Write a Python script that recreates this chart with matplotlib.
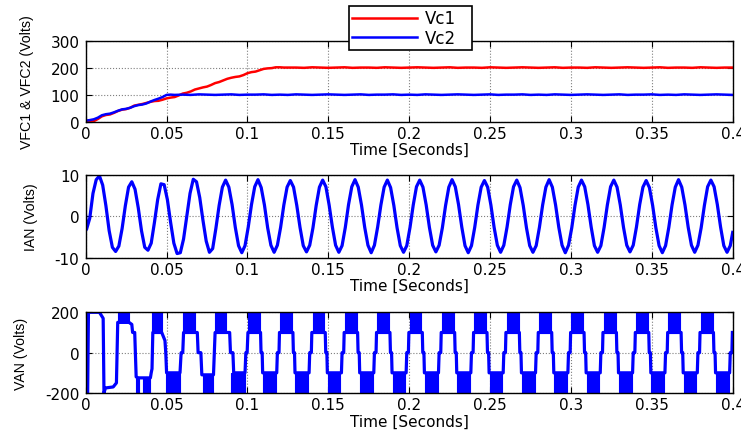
import numpy as np
import matplotlib
matplotlib.use("Agg")
import matplotlib.pyplot as plt

plt.rcParams['font.family'] = ['DejaVu Sans']
plt.rcParams['axes.unicode_minus'] = False

# ---------------- data ----------------
TIME_TICKS = [0, 0.05, 0.1, 0.15, 0.2, 0.25, 0.3, 0.35, 0.4]
TIME_TICK_LABELS = ['0', '0.05', '0.1', '0.15', '0.2', '0.25', '0.3', '0.35', '0.4']
VC_TICKS = [0, 100, 200, 300]
IAN_TICKS = [-10, 0, 10]
VAN_TICKS = [-200, 0, 200]
SERIES_NAMES = ['Vc1', 'Vc2']

# capacitor voltages: ramp (0.0025 s samples) and settled part (0.005 s samples)
VC1_RAMP = [0, 0, 2, 10, 20, 25, 27, 33, 40, 45, 47, 52, 60, 63, 66, 70, 74, 77, 78, 82,
            87, 90, 92, 98, 105, 108, 113, 120, 124, 128, 131, 137, 144, 148, 154, 160, 164, 167, 169, 174,
            181, 185, 187, 192, 197, 199, 200, 203, 203, 202, 202]
VC1_FLAT = [202, 201, 203, 202, 201, 202, 203, 201, 202, 202, 201, 203, 202, 201, 202, 203, 202, 201, 202, 203,
            201, 202, 202, 201, 203, 202, 201, 202, 203, 202, 201, 202, 203, 201, 202, 202, 201, 203, 202, 201,
            202, 203, 202, 201, 202, 203, 201, 202, 202, 201, 203, 202, 201, 202, 202]
VC2_RAMP = [4, 6, 9, 15, 24, 28, 30, 35, 41, 46, 48, 52, 58, 62, 64, 68, 75, 81, 86, 92, 100, 101, 100]
VC2_FLAT = [101, 100, 102, 101, 100, 101, 102, 100, 101, 101, 102, 100, 101, 100, 102, 101, 100, 101, 102, 101,
            100, 101, 102, 100, 101, 101, 102, 100, 101, 100, 102, 101, 100, 101, 102, 101, 100, 101, 102, 100,
            101, 101, 102, 100, 101, 100, 102, 101, 100, 101, 102, 101, 100, 101, 102, 100, 101, 101, 102, 100,
            101, 100, 102, 101, 100, 101, 102, 101, 100]

# phase current, one row per 20 ms cycle, samples every 2 ms starting at 0.5 ms
IAN_START = 0.0
IAN_ROWS = [
    [-3.2, -0.5, 5.5, 8.8, 9.7, 7.5, 2.5, -3.5, -7.5, -8.5],
    [-7.2, -3.0, 2.5, 7.0, 8.3, 6.5, 2.0, -3.5, -7.5, -8.2],
    [-6.5, -1.5, 4.0, 7.8, 7.6, 4.0, -1.5, -6.5, -9.0, -8.8],
    [-5.5, 0.0, 5.5, 8.9, 8.3, 4.5, -1.0, -6.0, -8.7, -7.8],
    [-2.9, 2.6, 7.0, 8.7, 7.0, 2.8, -2.7, -7.1, -8.8, -7.1],
    [-2.6, 2.8, 7.1, 8.8, 6.9, 2.7, -2.8, -7.0, -8.7, -7.0],
    [-2.7, 2.7, 7.0, 8.6, 7.0, 2.6, -2.7, -7.1, -8.6, -7.0],
    [-2.8, 2.6, 7.0, 8.7, 7.1, 2.7, -2.6, -7.0, -8.7, -7.1],
    [-2.7, 2.8, 7.1, 8.8, 7.0, 2.7, -2.7, -7.0, -8.8, -7.0],
    [-2.6, 2.7, 7.0, 8.7, 6.9, 2.6, -2.8, -7.1, -8.7, -7.1],
    [-2.7, 2.7, 7.1, 8.7, 7.0, 2.7, -2.7, -7.0, -8.6, -7.0],
    [-2.8, 2.6, 7.0, 8.8, 7.1, 2.8, -2.6, -7.1, -8.8, -7.1],
    [-2.7, 2.7, 7.0, 8.6, 7.0, 2.7, -2.7, -7.0, -8.7, -7.0],
    [-2.6, 2.8, 7.1, 8.7, 6.9, 2.6, -2.8, -7.1, -8.7, -7.1],
    [-2.7, 2.7, 7.0, 8.8, 7.0, 2.7, -2.7, -7.0, -8.8, -7.0],
    [-2.8, 2.6, 7.0, 8.7, 7.1, 2.8, -2.6, -7.1, -8.7, -7.1],
    [-2.7, 2.7, 7.1, 8.7, 7.0, 2.7, -2.7, -7.0, -8.6, -7.0],
    [-2.6, 2.8, 7.0, 8.6, 6.9, 2.6, -2.8, -7.1, -8.8, -7.1],
    [-2.7, 2.7, 7.0, 8.8, 7.0, 2.7, -2.7, -7.0, -8.7, -7.0],
    [-2.8, 2.6, 7.1, 8.7, 7.1, 2.8, -2.6, -7.1, -8.7, -7.1],
]
IAN_END = -3.9

# phase voltage: start-up breakpoints
VAN_TR_T = [0.0, 0.0003, 0.0012, 0.0017, 0.0085, 0.0100, 0.0108, 0.0113, 0.0122, 0.0170,
            0.0180, 0.0190, 0.0198, 0.0268, 0.0285, 0.0290, 0.0303, 0.0312, 0.0325, 0.0400,
            0.0405, 0.0410, 0.0415, 0.0470, 0.0480, 0.0490, 0.0495, 0.0500, 0.0583, 0.0590,
            0.0600, 0.0605, 0.0680, 0.0690, 0.0695, 0.0712, 0.0718, 0.0790, 0.0795, 0.0800,
            0.0870, 0.0890, 0.0895, 0.0910, 0.0915, 0.0985, 0.0990, 0.0998]
VAN_TR_V = [0, -200, -200, 200, 200, 180, 170, -200, -175, -170,
            -160, -150, 150, 150, 140, 100, 100, -120, -125, -125,
            -100, -80, 100, 100, 80, 60, 0, -100, -100, 0,
            0, 100, 100, 100, 0, 0, -110, -110, 0, 100,
            100, 100, 0, 0, -100, -100, 0, 0]
# PWM chatter bands during start-up: (start, end, inner level, outer level)
VAN_TR_BANDS = [(0.0198, 0.0268, 150, 200), (0.0312, 0.0330, -120, -200),
                (0.0357, 0.0398, -125, -200), (0.0412, 0.0470, 100, 200),
                (0.0497, 0.0583, -100, -200), (0.0604, 0.0676, 100, 200),
                (0.0725, 0.0790, -110, -200), (0.0800, 0.0870, 100, 200),
                (0.0900, 0.0985, -100, -200)]
# steady-state cycle (read from one period) and the cycle start times
VAN_CYCLE_TAU = [0.0, 0.0073, 0.0078, 0.0081, 0.0088, 0.0091, 0.0172, 0.0178, 0.0182, 0.0192, 0.0195]
VAN_CYCLE_V = [100, 100, 100, 0, 0, -100, -100, -100, 0, 0, 100]
VAN_CYCLE_BANDS = [(0.0, 0.0073, 100, 200), (0.0094, 0.0172, -100, -200)]
VAN_CYCLE_STARTS = [0.1003, 0.1203, 0.1403, 0.1603, 0.1803, 0.2003, 0.2203, 0.2403,
                    0.2603, 0.2803, 0.3003, 0.3203, 0.3403, 0.3603, 0.3803]

# ---------------- build series ----------------
vc1_t = np.concatenate([np.linspace(0, 0.125, len(VC1_RAMP)), np.linspace(0.13, 0.40, len(VC1_FLAT))])
vc1_v = np.array(VC1_RAMP + VC1_FLAT, dtype=float)
vc2_t = np.concatenate([np.linspace(0, 0.055, len(VC2_RAMP)), np.linspace(0.06, 0.40, len(VC2_FLAT))])
vc2_v = np.array(VC2_RAMP + VC2_FLAT, dtype=float)

ian_vals = [IAN_START] + [v for row in IAN_ROWS for v in row] + [IAN_END]
ian_t = np.concatenate([[0.0], 0.0005 + 0.002 * np.arange(len(ian_vals) - 2), [0.4]])
ian_v = np.array(ian_vals)

van_t = list(VAN_TR_T)
van_v = list(VAN_TR_V)
van_bands = list(VAN_TR_BANDS)
for c in VAN_CYCLE_STARTS:
    van_t += [c + tau for tau in VAN_CYCLE_TAU]
    van_v += VAN_CYCLE_V
    van_bands += [(c + a, c + b, lo, hi) for (a, b, lo, hi) in VAN_CYCLE_BANDS]

# ---------------- figure ----------------
W, H = 741, 435
fig = plt.figure(figsize=(W / 100, H / 100), dpi=100)

def px_axes(top, bottom, left=85.7, right=732.7):
    return [left / W, 1 - bottom / H, (right - left) / W, (bottom - top) / H]

ax1 = fig.add_axes(px_axes(42.3, 122.7))
ax2 = fig.add_axes(px_axes(175.7, 258.7))
ax3 = fig.add_axes(px_axes(313.3, 394.0))

BLUE = '#0000ff'
RED = '#ff0000'
TICK_FS = 11
YLAB_FS = 10.2

l1, = ax1.plot(vc1_t, vc1_v, color=RED, lw=1.8)
l2, = ax1.plot(vc2_t, vc2_v, color=BLUE, lw=1.8)
ax2.plot(ian_t, ian_v, color=BLUE, lw=2.3, solid_joinstyle='round')
for (a, b, lo, hi) in van_bands:
    ax3.fill_between([a, b], [lo, lo], [hi, hi], color=BLUE, lw=0.8, edgecolor=BLUE)
ax3.plot(van_t, van_v, color=BLUE, lw=2.3)

# right edge of each y label, in pixels
for ax, yt, ylab, lab_right in [(ax1, VC_TICKS, 'VFC1 & VFC2 (Volts)', 34),
                                (ax2, IAN_TICKS, 'IAN (Volts)', 38),
                                (ax3, VAN_TICKS, 'VAN (Volts)', 28)]:
    ax.set_xlim(0, 0.4)
    ax.set_ylim(yt[0], yt[-1])
    ax.set_xticks(TIME_TICKS)
    ax.set_xticklabels(TIME_TICK_LABELS)
    ax.set_yticks(yt)
    ax.set_yticklabels([str(v) for v in yt])
    ax.tick_params(direction='in', top=True, right=True, length=4, width=0.8,
                   labelsize=TICK_FS)
    ax.tick_params(axis='x', pad=3)
    ax.tick_params(axis='y', pad=4.5)
    ax.grid(True, color='#7f7f7f', linestyle=':', linewidth=0.8)
    ax.set_axisbelow(True)
    for s in ax.spines.values():
        s.set_linewidth(1.0)
        s.set_zorder(5)
    ax.set_xlabel('Time [Seconds]', fontsize=TICK_FS, labelpad=1)
    ax.set_ylabel(ylab, fontsize=YLAB_FS, family=['Liberation Sans', 'DejaVu Sans'])
    ax.yaxis.set_label_coords((lab_right - 85.7) / 647.0, 0.5)

leg = fig.legend([l1, l2], SERIES_NAMES, loc='upper left',
                 bbox_to_anchor=(349 / W, 1 - 52 / H, 123 / W, 45 / H), mode='expand',
                 borderaxespad=0, fontsize=12, handlelength=3.9, handletextpad=0.45,
                 borderpad=0.2, labelspacing=0.1, fancybox=False, framealpha=1,
                 edgecolor='black')
leg.get_frame().set_linewidth(1.2)
for ln in leg.get_lines():
    ln.set_linewidth(1.8)

fig.savefig('out.png', dpi=100)
